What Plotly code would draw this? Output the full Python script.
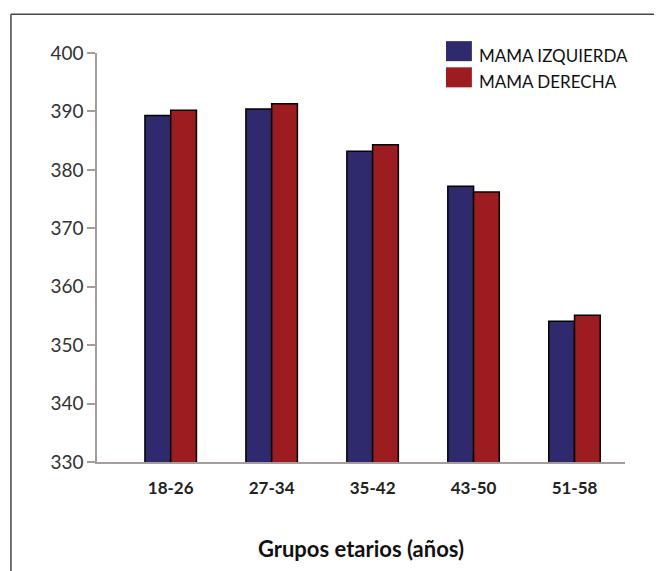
import plotly.graph_objects as go

# Datos
grupos = ['18-26', '27-34', '35-42', '43-50', '51-58']
mama_izquierda = [389.3, 390.4, 383.2, 377.2, 354.1]
mama_derecha = [390.2, 391.3, 384.3, 376.2, 355.1]
series = ['MAMA IZQUIERDA', 'MAMA DERECHA']
colores = ['#2f2a6d', '#9c1c20']
y_ticks = [330, 340, 350, 360, 370, 380, 390, 400]

fuente = 'Lato'

fig = go.Figure()
fig.add_trace(go.Bar(x=grupos, y=mama_izquierda, name=series[0],
                     marker=dict(color=colores[0], line=dict(color='black', width=1.5))))
fig.add_trace(go.Bar(x=grupos, y=mama_derecha, name=series[1],
                     marker=dict(color=colores[1], line=dict(color='black', width=1.5))))

# Leyenda dibujada a mano (cuadros grandes como en el original)
for i, (nombre, color) in enumerate(zip(series, colores)):
    y0 = 1.029 - i * 0.064
    fig.add_shape(type='rect', xref='paper', yref='paper',
                  x0=0.661, x1=0.710, y0=y0 - 0.049, y1=y0,
                  fillcolor=color, line=dict(width=0))
    fig.add_annotation(xref='paper', yref='paper', x=0.720, y=y0 - 0.034,
                       text=nombre, showarrow=False, xanchor='left', yanchor='middle',
                       font=dict(family=fuente, size=17, color='#111111'))

# Marco exterior (solo arriba e izquierda se ven)
fig.add_shape(type='line', xref='paper', yref='paper', x0=-0.163, x1=1.2, y0=1.095, y1=1.095,
              line=dict(color='#444444', width=1.5))
fig.add_shape(type='line', xref='paper', yref='paper', x0=-0.163, x1=-0.163, y0=1.095, y1=-0.3,
              line=dict(color='#444444', width=1.5))

# la página deja 8px de margen, por eso el tamaño es algo menor
fig.update_layout(
    width=646, height=563,
    margin=dict(l=89, r=29, t=45, b=109),
    paper_bgcolor='white', plot_bgcolor='white',
    barmode='group', bargap=0.49, bargroupgap=0,
    showlegend=False,
    font=dict(family=fuente, color='#333333'),
    xaxis=dict(range=[-0.73, 4.5], showline=True, linecolor='#a59c9c', linewidth=1.5,
               ticks='outside', ticklen=10, tickcolor='rgba(0,0,0,0)',
               tickfont=dict(family=fuente, size=17, color='#222222', weight='bold'),
               title=dict(text='Grupos etarios (años)', standoff=44,
                          font=dict(family=fuente, size=22, color='#111111', weight='bold'))),
    yaxis=dict(range=[330, 400], tickvals=y_ticks, showline=True, linecolor='#a59c9c',
               linewidth=1.5, ticks='outside', ticklen=8, tickcolor='#a59c9c', tickwidth=1.5,
               showgrid=False, zeroline=False,
               tickfont=dict(family=fuente, size=19, color='#333333')),
)

fig.write_html('out.html')
